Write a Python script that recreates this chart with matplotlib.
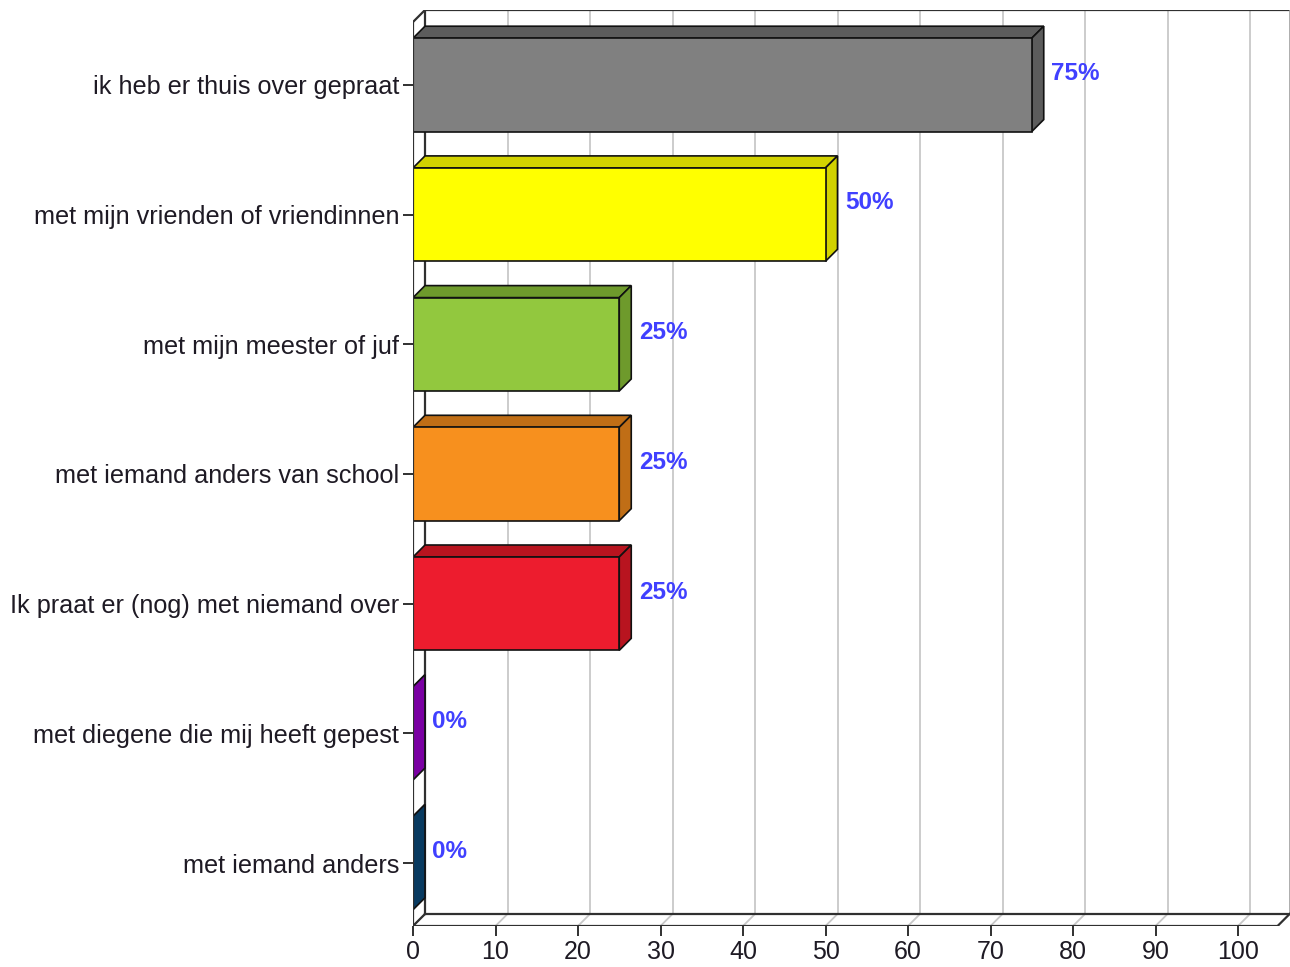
import matplotlib
matplotlib.use("Agg")
import matplotlib.pyplot as plt
from matplotlib.patches import Polygon, Rectangle

plt.rcParams["font.family"] = ["Liberation Sans", "DejaVu Sans"]

# data
categories = [
    "ik heb er thuis over gepraat",
    "met mijn vrienden of vriendinnen",
    "met mijn meester of juf",
    "met iemand anders van school",
    "Ik praat er (nog) met niemand over",
    "met diegene die mij heeft gepest",
    "met iemand anders",
]
values = [75, 50, 25, 25, 25, 0, 0]
front_colors = ["#808080", "#ffff00", "#92c83e", "#f7901e", "#ed1c2e", "#9900cc", "#0b4f82"]
shade_colors = ["#5c5c5c", "#d2d200", "#6e9a2c", "#c06e16", "#b8141f", "#7a00a3", "#083a60"]
xticks = [0, 10, 20, 30, 40, 50, 60, 70, 80, 90, 100]

W, H = 1290, 967
fig = plt.figure(figsize=(W / 100, H / 100), dpi=100)

# axes placed so data units map onto the reference pixel grid
px_x = 8.25   # pixels per percent
px_y = 129.7  # pixels per category
left_px, right_px, bottom_px, top_px = 413, 1290, 926, 10
ax = fig.add_axes([left_px / W, (H - bottom_px) / H,
                   (right_px - left_px) / W, (bottom_px - top_px) / H])

n = len(categories)
y_front_bot = n - 0.515
y_front_top = -0.485
ax.set_xlim(0, (right_px - left_px) / px_x)
ax.set_ylim(y_front_bot, y_front_bot - (bottom_px - top_px) / px_y)

dx = 12 / px_x
dy = 12 / px_y
x_end = 104.8
half = 0.36

frame = "#303030"
grid = "#c8c8c8"

# back wall grid and floor grid
for t in xticks:
    ax.plot([t + dx, t + dx], [y_front_bot - dy, y_front_top - dy], color=grid, lw=1.3, zorder=1)
    ax.plot([t, t + dx], [y_front_bot, y_front_bot - dy], color=grid, lw=1.3, zorder=1)

# box outline
ax.plot([dx, x_end + dx], [y_front_top - dy] * 2, color=frame, lw=1.6, zorder=2)
ax.plot([x_end + dx] * 2, [y_front_top - dy, y_front_bot - dy], color="#a0a0a0", lw=1.2, zorder=2)
ax.plot([dx, dx], [y_front_top - dy, y_front_bot - dy], color=frame, lw=1.6, zorder=2)
ax.plot([0, dx], [y_front_top, y_front_top - dy], color=frame, lw=1.6, zorder=2)
ax.plot([dx, x_end + dx], [y_front_bot - dy] * 2, color=frame, lw=1.6, zorder=2)
ax.plot([0, x_end], [y_front_bot] * 2, color=frame, lw=1.6, zorder=2)
ax.plot([0, dx], [y_front_bot, y_front_bot - dy], color=frame, lw=1.6, zorder=2)
ax.plot([x_end, x_end + dx], [y_front_bot, y_front_bot - dy], color=frame, lw=1.6, zorder=2)

# 3d bars
for i, (v, fc, sc) in enumerate(zip(values, front_colors, shade_colors)):
    y0, y1 = i - half, i + half
    top = Polygon([(0, y0), (v, y0), (v + dx, y0 - dy), (dx, y0 - dy)],
                  closed=True, facecolor=sc, edgecolor="#111111", lw=1.2, zorder=3)
    side = Polygon([(v, y0), (v + dx, y0 - dy), (v + dx, y1 - dy), (v, y1)],
                   closed=True, facecolor=sc, edgecolor="#111111", lw=1.2, zorder=3)
    ax.add_patch(top)
    ax.add_patch(side)
    if v > 0:
        ax.add_patch(Rectangle((0, y0), v, y1 - y0, facecolor=fc,
                               edgecolor="#111111", lw=1.2, zorder=4))
    ax.text(v + dx + 0.9, i - 0.09, f"{v}%", color="#4040ff", fontsize=17.5,
            fontweight="bold", ha="left", va="center", zorder=5)

# front left axis line
ax.plot([0, 0], [y_front_top, y_front_bot], color=frame, lw=1.6, zorder=6)

for s in ax.spines.values():
    s.set_visible(False)
ax.set_xticks(xticks)
ax.set_xticklabels([str(t) for t in xticks])
ax.set_yticks(range(n))
ax.set_yticklabels(categories)
ax.tick_params(axis="x", direction="out", length=7, width=1.4, color=frame,
               labelsize=18, labelcolor="#1e1a24", pad=3)
ax.tick_params(axis="y", direction="out", length=7, width=1.4, color=frame,
               labelsize=18.2, labelcolor="#1e1a24", pad=3)

fig.savefig("out.png", dpi=100)
